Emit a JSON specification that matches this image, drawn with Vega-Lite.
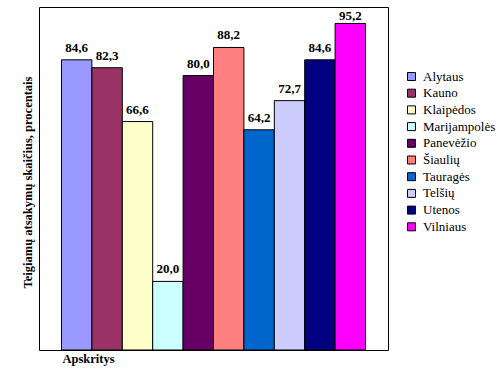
{
  "$schema": "https://vega.github.io/schema/vega-lite/v6.json",
  "width": 349,
  "height": 343,
  "autosize": {"type": "none"},
  "padding": {"left": 39, "top": 7, "right": 116, "bottom": 25},
  "background": "white",
  "config": {
    "view": {"stroke": "black", "strokeWidth": 1},
    "font": "Liberation Serif",
    "locale": {"number": {"decimal": ",", "thousands": ".", "grouping": [3], "currency": ["", " €"]}},
    "legend": {
      "orient": "none",
      "legendX": 366,
      "legendY": 63,
      "padding": 0,
      "symbolType": "square",
      "symbolSize": 64,
      "symbolStrokeColor": "black",
      "symbolStrokeWidth": 1,
      "symbolOpacity": 1,
      "labelFont": "Liberation Serif",
      "labelFontSize": 13,
      "labelColor": "black",
      "labelOffset": 5,
      "rowPadding": 2.7
    }
  },
  "data": {
    "values": [
      {"apskritis": "Alytaus", "procentai": 84.6},
      {"apskritis": "Kauno", "procentai": 82.3},
      {"apskritis": "Klaipėdos", "procentai": 66.6},
      {"apskritis": "Marijampolės", "procentai": 20.0},
      {"apskritis": "Panevėžio", "procentai": 80.0},
      {"apskritis": "Šiaulių", "procentai": 88.2},
      {"apskritis": "Tauragės", "procentai": 64.2},
      {"apskritis": "Telšių", "procentai": 72.7},
      {"apskritis": "Utenos", "procentai": 84.6},
      {"apskritis": "Vilniaus", "procentai": 95.2}
    ]
  },
  "encoding": {
    "x": {
      "field": "apskritis",
      "type": "nominal",
      "sort": null,
      "scale": {"paddingInner": 0, "paddingOuter": 0.74},
      "axis": {
        "title": "Apskritys",
        "labels": false,
        "ticks": false,
        "domain": false,
        "grid": false,
        "titleFont": "Liberation Serif",
        "titleFontWeight": "bold",
        "titleFontSize": 12.5,
        "titleColor": "black",
        "titleAlign": "left",
        "titleBaseline": "alphabetic",
        "titleX": 23,
        "titleY": 12
      }
    },
    "y": {
      "field": "procentai",
      "type": "quantitative",
      "scale": {"domain": [0, 100], "nice": false},
      "axis": {
        "title": "Teigiamų atsakymų skaičius, procentais",
        "labels": false,
        "ticks": false,
        "domain": false,
        "grid": false,
        "titleFont": "Liberation Serif",
        "titleFontWeight": "bold",
        "titleFontSize": 12.5,
        "titleColor": "black",
        "titleAngle": -90,
        "titleAlign": "center",
        "titleBaseline": "middle",
        "titleX": -12,
        "titleY": 175
      }
    }
  },
  "layer": [
    {
      "mark": {"type": "bar", "stroke": "black", "strokeWidth": 1, "opacity": 1},
      "encoding": {
        "color": {
          "field": "apskritis",
          "type": "nominal",
          "sort": null,
          "title": null,
          "scale": {
            "domain": ["Alytaus", "Kauno", "Klaipėdos", "Marijampolės", "Panevėžio", "Šiaulių", "Tauragės", "Telšių", "Utenos", "Vilniaus"],
            "range": ["#9999FF", "#993366", "#FFFFCC", "#CCFFFF", "#660066", "#FF8080", "#0066CC", "#CCCCFF", "#000080", "#FF00FF"]
          }
        }
      }
    },
    {
      "transform": [{"filter": "datum.procentai < 90"}],
      "mark": {"type": "text", "dy": -8, "baseline": "alphabetic", "fontWeight": "bold", "fontSize": 13, "font": "Liberation Serif", "color": "black"},
      "encoding": {
        "text": {"field": "procentai", "type": "quantitative", "format": ".1f"}
      }
    },
    {
      "transform": [{"filter": "datum.procentai >= 90"}],
      "mark": {"type": "text", "dy": -3, "baseline": "alphabetic", "fontWeight": "bold", "fontSize": 13, "font": "Liberation Serif", "color": "black"},
      "encoding": {
        "text": {"field": "procentai", "type": "quantitative", "format": ".1f"}
      }
    }
  ]
}
